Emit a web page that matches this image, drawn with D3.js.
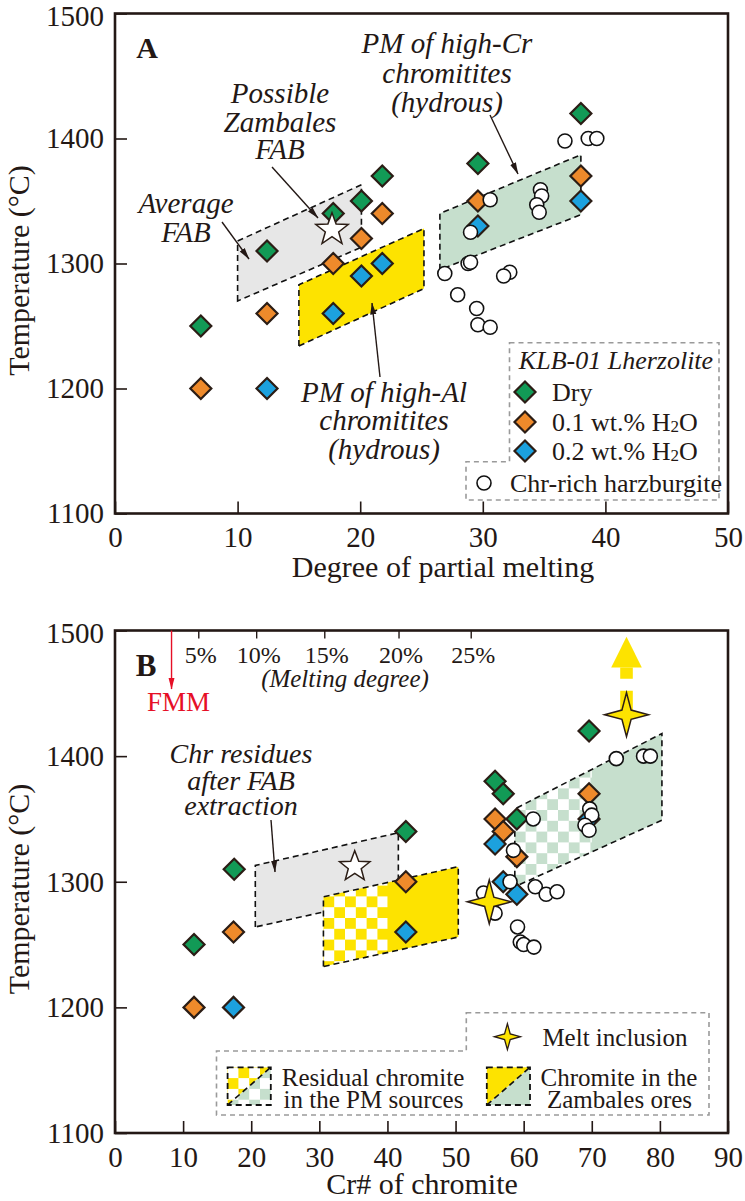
<!DOCTYPE html>
<html><head><meta charset="utf-8">
<script src="https://cdn.jsdelivr.net/npm/d3@7"></script>
<style>body{margin:0;background:#fff} svg{display:block}</style>
</head><body>
<svg id="c" width="745" height="1201"></svg>
<script>
// ---------------- DATA ----------------
const tempTicks = [1100, 1200, 1300, 1400, 1500];
const xTicksA = [0, 10, 20, 30, 40, 50];
const xTicksB = [0, 10, 20, 30, 40, 50, 60, 70, 80, 90];

// Panel A: degree of partial melting vs temperature (KLB-01 lherzolite experiments)
const dryA  = [[7,1250],[12.4,1310],[17.8,1340],[20.1,1350],[21.8,1370],[29.6,1380],[38,1420]];
const h01A  = [[7,1200],[12.4,1260],[17.8,1300],[20.1,1320],[21.8,1340],[29.6,1350],[38,1370]];
const h02A  = [[12.4,1200],[17.8,1260],[20.1,1290],[21.8,1300],[29.6,1330],[38,1350]];
const harzA = [[36.7,1398],[38.6,1400],[39.3,1400],[30.6,1351],[34.7,1359],[34.8,1354],[34.4,1347],[34.6,1341],
               [29.0,1325],[28.8,1300],[29.0,1301],[26.9,1292],[32.2,1293],[31.7,1290],[27.95,1275],[29.5,1264],[29.6,1251],[30.6,1249]];
const fabStarA = [17.7, 1327];
const grayPolyA   = [[10,1270],[10,1318],[20.1,1363],[20.1,1313]];
const yellowPolyA = [[15,1234],[15,1283],[25.2,1328],[25.2,1280]];
const greenPolyA  = [[26.5,1295],[26.5,1340],[38,1387],[38,1339]];

// Panel B: Cr# of chromite vs temperature
const dryB  = [[11.6,1250],[17.5,1310],[42.7,1340],[55.8,1380],[57.0,1370],[59.0,1350],[69.6,1420]];
const h01B  = [[11.6,1200],[17.4,1260],[42.7,1300],[55.8,1350],[57.0,1340],[59.0,1320],[69.6,1370]];
const h02B  = [[17.4,1200],[42.7,1260],[55.8,1330],[57.0,1300],[59.0,1290],[69.6,1350]];
const harzB = [[73.6,1398],[77.6,1400],[78.6,1400],[61.4,1350],[69.7,1358],[70.0,1353],[69.0,1345],[69.6,1341],
               [58.5,1325],[58.0,1300],[61.7,1296],[63.3,1290],[64.9,1292],[54.1,1291],[55.8,1275],[59.1,1264],
               [59.5,1252],[60.0,1250],[61.5,1248]];
const fabStarB = [35.2, 1312];
const meltInclusions = [[75.1,1433],[54.95,1284]];
const meltArrowTipT = 1495;
const grayPolyB   = [[20.6,1264],[20.6,1313],[41.6,1339],[41.6,1289]];
const yellowPolyB = [[30.6,1232.5],[30.6,1288],[50.4,1312],[50.4,1256]];
const yellowCheckEndB = 40;
const greenPolyB  = [[58.7,1296],[58.7,1358],[80.3,1418],[80.3,1349]];
const greenCheckEndB = 70;
const meltDegCr = [12.3, 20.8, 30.8, 41.7, 52.3];
const meltDegLabels = ['5%', '10%', '15%', '20%', '25%'];
const fmmCr = 8.3;

// ---------------- SETUP ----------------
const svg = d3.select('#c');
const INK = '#231815';
const FONT = '"Liberation Serif","Times New Roman",Times,serif';
const COL = {dry:'#129a56', h01:'#ee8a2b', h02:'#1ca1de', yellow:'#fde300', lgreen:'#c6dfcd', gray:'#e7e7e7', red:'#e60f26'};

const xA = d3.scaleLinear([0,50],[115,728]);
const yA = d3.scaleLinear([1100,1500],[513.5,13.5]);
const xB = d3.scaleLinear([0,90],[115,728]);
const yB = d3.scaleLinear([1100,1500],[1133,630.5]);

const defs = svg.append('defs');
function marker(id, col){
  defs.append('marker').attr('id',id).attr('viewBox','0 0 12 8').attr('refX',11.5).attr('refY',4)
    .attr('markerWidth',12).attr('markerHeight',8).attr('markerUnits','userSpaceOnUse').attr('orient','auto')
    .append('path').attr('d','M0,0.9 L12,4 L0,7.1 Z').attr('fill',col);
}
marker('arr', INK); marker('arrR', COL.red);

function checkPattern(id, ox, oy, cell){
  const p = defs.append('pattern').attr('id',id).attr('patternUnits','userSpaceOnUse')
    .attr('x',ox).attr('y',oy).attr('width',cell*2).attr('height',cell*2);
  p.append('rect').attr('x',0).attr('y',0).attr('width',cell).attr('height',cell).attr('fill','#fff');
  p.append('rect').attr('x',cell).attr('y',cell).attr('width',cell).attr('height',cell).attr('fill','#fff');
}

function txt(g, s, x, y, o={}){
  return g.append('text').attr('x',x).attr('y',y).attr('font-family',FONT)
    .attr('font-size',o.size||30).attr('font-style',o.italic?'italic':'normal')
    .attr('font-weight',o.bold?'bold':'normal').attr('fill',o.fill||INK)
    .attr('text-anchor',o.anchor||'middle').text(s);
}

function polyPath(pts, x, y){ return 'M' + pts.map(p => x(p[0]) + ',' + y(p[1])).join('L') + 'Z'; }

function diamond(g, cx, cy, fill, h=10.5){
  g.append('path').attr('d',`M${cx},${cy-h}L${cx+h},${cy}L${cx},${cy+h}L${cx-h},${cy}Z`)
    .attr('fill',fill).attr('stroke','#2b1d15').attr('stroke-width',2.2).attr('stroke-linejoin','miter');
}
function starPath(cx, cy, R, r, n){
  let d = '';
  for (let i=0;i<2*n;i++){
    const a = -Math.PI/2 + i*Math.PI/n;
    const rr = i%2===0 ? R : r;
    d += (i===0?'M':'L') + (cx+rr*Math.cos(a)).toFixed(2) + ',' + (cy+rr*Math.sin(a)).toFixed(2);
  }
  return d + 'Z';
}
function arrow(g, x1, y1, x2, y2, col, mk){
  g.append('line').attr('x1',x1).attr('y1',y1).attr('x2',x2).attr('y2',y2)
    .attr('stroke',col||INK).attr('stroke-width',1.4).attr('marker-end',`url(#${mk||'arr'})`);
}

function axes(x, y, xTicks, xTitle, xTitleX, xTitleBase, yTitleCY){
  const [x0,x1] = x.range(); const [yb,yt] = y.range();
  const gy = svg.append('g').attr('transform',`translate(${x0},0)`)
    .call(d3.axisLeft(y).tickValues(tempTicks).tickSize(-12).tickPadding(11).tickFormat(d3.format('d')));
  const gx = svg.append('g').attr('transform',`translate(0,${yb})`)
    .call(d3.axisBottom(x).tickValues(xTicks).tickSize(-12).tickPadding(13).tickFormat(d3.format('d')));
  [gy,gx].forEach(g=>{
    g.select('.domain').remove();
    g.selectAll('.tick line').attr('stroke',INK).attr('stroke-width',1.6);
    g.selectAll('.tick text').attr('font-family',FONT).attr('font-size',29).attr('fill',INK);
  });
  gy.selectAll('.tick text').filter(d=>d===1500).attr('dy','0.42em');
  svg.append('rect').attr('x',x0).attr('y',yt).attr('width',x1-x0).attr('height',yb-yt)
    .attr('fill','none').attr('stroke',INK).attr('stroke-width',2.6);
  txt(svg, xTitle, xTitleX, xTitleBase, {size:30});
  svg.append('text').attr('transform',`translate(28.5,${yTitleCY}) rotate(-90)`).attr('font-family',FONT)
    .attr('font-size',30).attr('fill',INK).attr('text-anchor','middle').text('Temperature (°C)');
}

function outlinePoly(g, pts, x, y, fill){
  g.append('path').attr('d',polyPath(pts,x,y)).attr('fill',fill).attr('stroke','none');
}
function dashPoly(g, pts, x, y){
  g.append('path').attr('d',polyPath(pts,x,y)).attr('fill','none').attr('stroke','#111')
    .attr('stroke-width',1.6).attr('stroke-dasharray','6,4');
}
function checkerPoly(g, pts, x, y, fill, endX, id){
  outlinePoly(g, pts, x, y, fill);
  const left = x(pts[0][0]);
  checkPattern(id+'p', left, 0, 10.8);
  defs.append('clipPath').attr('id',id+'c').append('path').attr('d',polyPath(pts,x,y));
  g.append('rect').attr('clip-path',`url(#${id}c)`).attr('x',left).attr('y',0)
    .attr('width',x(endX)-left).attr('height',1201).attr('fill',`url(#${id}p)`);
  dashPoly(g, pts, x, y);
}

// ---------------- PANEL A ----------------
const gA = svg.append('g');
outlinePoly(gA, grayPolyA, xA, yA, COL.gray); dashPoly(gA, grayPolyA, xA, yA);
outlinePoly(gA, yellowPolyA, xA, yA, COL.yellow); dashPoly(gA, yellowPolyA, xA, yA);
outlinePoly(gA, greenPolyA, xA, yA, COL.lgreen); dashPoly(gA, greenPolyA, xA, yA);

dryA.forEach(d=>diamond(gA, xA(d[0]), yA(d[1]), COL.dry));
h01A.forEach(d=>diamond(gA, xA(d[0]), yA(d[1]), COL.h01));
h02A.forEach(d=>diamond(gA, xA(d[0]), yA(d[1]), COL.h02));
harzA.forEach(d=>gA.append('circle').attr('cx',xA(d[0])).attr('cy',yA(d[1])).attr('r',7)
  .attr('fill','#fff').attr('stroke','#111').attr('stroke-width',1.6));
gA.append('path').attr('d',starPath(xA(fabStarA[0]), yA(fabStarA[1]), 17, 7, 5))
  .attr('fill','#fff').attr('stroke','#2b1d15').attr('stroke-width',1.5);

axes(xA, yA, xTicksA, 'Degree of partial melting', 443, 577, 270.5);

txt(svg,'A',147,58,{bold:true,size:30});
[['PM of high-Cr',53],['chromitites',83],['(hydrous)',112]].forEach(l=>txt(svg,l[0],447,l[1],{italic:true,size:29}));
[['Possible',103],['Zambales',131.5],['FAB',158.5]].forEach(l=>txt(svg,l[0],280,l[1],{italic:true,size:29}));
[['Average',213],['FAB',241.5]].forEach(l=>txt(svg,l[0],186,l[1],{italic:true,size:29}));
[['PM of high-Al',401.5],['chromitites',430],['(hydrous)',458.5]].forEach(l=>txt(svg,l[0],384,l[1],{italic:true,size:29}));
arrow(svg, 272,167, 318,218);
arrow(svg, 222,222, 249,259);
arrow(svg, 490,115, 518,174);
arrow(svg, 380,377, 372,303);

// Legend A
const lgA = svg.append('g');
lgA.append('path').attr('d','M509.5,342.7L719,342.7L719,500L466,500L466,461.7L509.5,461.7Z')
  .attr('fill','none').attr('stroke','#9a9a9a').attr('stroke-width',1.6).attr('stroke-dasharray','5,4');
txt(lgA,'KLB-01 Lherzolite',616,369,{italic:true,size:26});
[[COL.dry,'Dry',392],[COL.h01,'0.1 wt.% H',422],[COL.h02,'0.2 wt.% H',451]].forEach((r,i)=>{
  diamond(lgA, 525, r[2], r[0], 10.5);
  const t = txt(lgA, r[1], 552, r[2]+9, {size:26, anchor:'start'});
  if (i>0){
    t.append('tspan').attr('font-size',17).attr('dy',1).text('2');
    t.append('tspan').attr('font-size',26).attr('dy',-1).text('O');
  }
});
lgA.append('circle').attr('cx',484).attr('cy',483).attr('r',7).attr('fill','#fff').attr('stroke','#111').attr('stroke-width',1.6);
txt(lgA,'Chr-rich harzburgite',510,492,{size:26,anchor:'start'});

// ---------------- PANEL B ----------------
const gB = svg.append('g');
outlinePoly(gB, grayPolyB, xB, yB, COL.gray); dashPoly(gB, grayPolyB, xB, yB);
checkerPoly(gB, yellowPolyB, xB, yB, COL.yellow, yellowCheckEndB, 'yb');
checkerPoly(gB, greenPolyB, xB, yB, COL.lgreen, greenCheckEndB, 'gb');

// upward arrow for the hottest melt inclusion
const mx = xB(meltInclusions[0][0]), my = yB(meltInclusions[0][1]), tipY = yB(meltArrowTipT);
gB.append('line').attr('x1',mx).attr('x2',mx).attr('y1',my).attr('y2',tipY+30.6)
  .attr('stroke',COL.yellow).attr('stroke-width',12.6).attr('stroke-dasharray','24,12,12,200');
gB.append('path').attr('d',`M${mx},${tipY}L${mx+15.3},${tipY+30.6}L${mx-15.3},${tipY+30.6}Z`).attr('fill',COL.yellow);

dryB.forEach(d=>diamond(gB, xB(d[0]), yB(d[1]), COL.dry));
h01B.forEach(d=>diamond(gB, xB(d[0]), yB(d[1]), COL.h01));
h02B.forEach(d=>diamond(gB, xB(d[0]), yB(d[1]), COL.h02));
harzB.forEach(d=>gB.append('circle').attr('cx',xB(d[0])).attr('cy',yB(d[1])).attr('r',7)
  .attr('fill','#fff').attr('stroke','#111').attr('stroke-width',1.6));
gB.append('path').attr('d',starPath(xB(fabStarB[0]), yB(fabStarB[1]), 16, 6.8, 5))
  .attr('fill','#fff').attr('stroke','#2b1d15').attr('stroke-width',1.5);
meltInclusions.forEach(d=>gB.append('path').attr('d',starPath(xB(d[0]), yB(d[1]), 22, 6.5, 4))
  .attr('fill',COL.yellow).attr('stroke','#2b1d15').attr('stroke-width',1.5).attr('stroke-linejoin','miter'));

axes(xB, yB, xTicksB, 'Cr# of chromite', 422, 1194, 889);

// melting-degree scale on top
meltDegCr.forEach((c,i)=>{
  svg.append('line').attr('x1',xB(c)).attr('x2',xB(c)).attr('y1',yB(1500)).attr('y2',yB(1500)+8)
    .attr('stroke',INK).attr('stroke-width',1.4);
  txt(svg, meltDegLabels[i], xB(c)+2, 663, {size:24});
});
txt(svg,'(Melting degree)',345,687,{italic:true,size:25});
arrow(svg, xB(fmmCr), yB(1500), xB(fmmCr), 689, COL.red, 'arrR');
txt(svg,'FMM',178.6,711,{size:27,fill:COL.red});
txt(svg,'B',146,676,{bold:true,size:31});
[['Chr residues',763],['after FAB',790],['extraction',815]].forEach(l=>txt(svg,l[0],241,l[1],{italic:true,size:28}));
arrow(svg, 271,820, 275,872);

// Legend B
const lgB = svg.append('g');
lgB.append('path').attr('d','M466.3,1012.7L709,1012.7L709,1115L216.5,1115L216.5,1051L466.3,1051Z')
  .attr('fill','none').attr('stroke','#9a9a9a').attr('stroke-width',1.6).attr('stroke-dasharray','5,4');
lgB.append('path').attr('d',starPath(507.4,1036.7,13,4,4)).attr('fill',COL.yellow).attr('stroke','#2b1d15').attr('stroke-width',1.3);
txt(lgB,'Melt inclusion',542.4,1046,{size:25,anchor:'start'});

function swatch(x0, y0, w, h, checker, id){
  const tl = `M${x0},${y0}L${x0+w},${y0}L${x0},${y0+h}Z`;
  const br = `M${x0+w},${y0}L${x0+w},${y0+h}L${x0},${y0+h}Z`;
  lgB.append('path').attr('d',tl).attr('fill',COL.yellow);
  lgB.append('path').attr('d',br).attr('fill',COL.lgreen);
  if (checker){
    checkPattern(id, x0, y0, 10.8);
    lgB.append('rect').attr('x',x0).attr('y',y0).attr('width',w).attr('height',h).attr('fill',`url(#${id})`);
  }
  lgB.append('rect').attr('x',x0).attr('y',y0).attr('width',w).attr('height',h).attr('fill','none')
    .attr('stroke','#111').attr('stroke-width',1.8).attr('stroke-dasharray','6,4');
  lgB.append('line').attr('x1',x0).attr('y1',y0+h).attr('x2',x0+w).attr('y2',y0).attr('stroke','#111')
    .attr('stroke-width',1.6).attr('stroke-dasharray','6,4');
}
swatch(227.6, 1067.3, 43.2, 37.7, true, 'sw1');
swatch(486.8, 1067.3, 43.2, 37.7, false, 'sw2');
txt(lgB,'Residual chromite',373,1085.5,{size:25});
txt(lgB,'in the PM sources',373.5,1108,{size:25});
txt(lgB,'Chromite in the',619,1085.5,{size:25});
txt(lgB,'Zambales ores',619.5,1108,{size:25});
</script>
</body></html>
